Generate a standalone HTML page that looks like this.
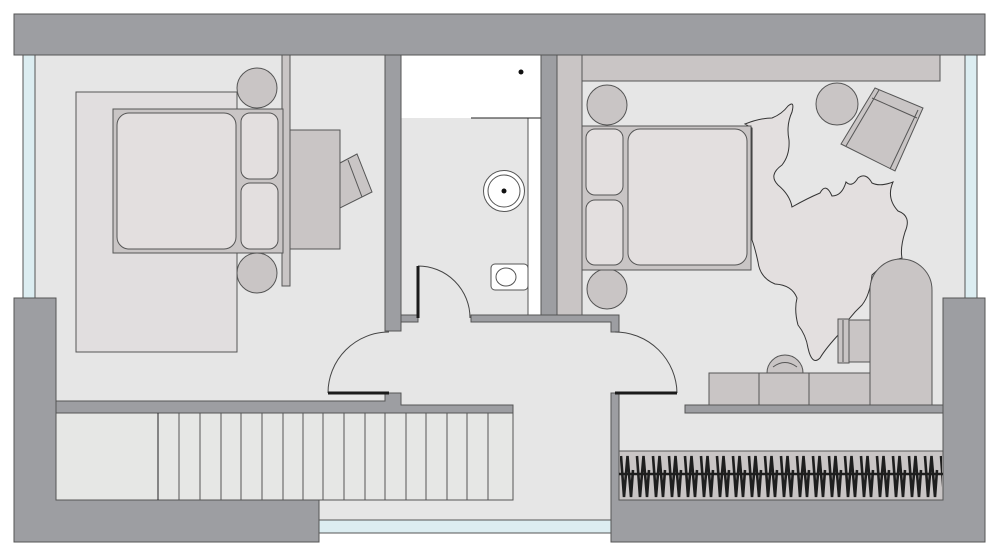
<!DOCTYPE html>
<html><head><meta charset="utf-8"><style>
html,body{margin:0;padding:0;background:#fff;width:1000px;height:556px;overflow:hidden}
svg{display:block}
</style></head><body>
<svg width="1000" height="556" viewBox="0 0 1000 556" xmlns="http://www.w3.org/2000/svg">
<defs>
<pattern id="hang" x="619" y="0" width="16" height="556" patternUnits="userSpaceOnUse">
<path d="M2,456 L5,497 L8.5,456 L12,497 L14,470" fill="none" stroke="#1e1e1e" stroke-width="2.6"/>
</pattern>
</defs>
<g stroke="#555" stroke-width="1">
<rect x="35" y="55" width="930" height="465" fill="#e6e6e6" stroke="none"/>
<rect x="23" y="55" width="12" height="243" fill="#dcedf1"/>
<rect x="965" y="55" width="12" height="243" fill="#dcedf1"/>
<rect x="319" y="520" width="293" height="13" fill="#dcedf1"/>
<rect x="401" y="55" width="140" height="63" fill="#fff" stroke="none"/>
<rect x="528" y="118" width="13" height="197" fill="#fff"/>
<line x1="471" y1="118" x2="541" y2="118" stroke="#222"/>
<circle cx="521" cy="72" r="2.5" fill="#111" stroke="none"/>
<circle cx="504" cy="191" r="20.5" fill="#fff"/>
<circle cx="504" cy="191" r="16" fill="#fff"/>
<circle cx="504" cy="191" r="2.5" fill="#111" stroke="none"/>
<rect x="491" y="264" width="37" height="26" rx="4" fill="#fff"/>
<ellipse cx="506" cy="277" rx="10" ry="9" fill="#fff"/>
<g fill="#9d9ea2">
<rect x="14" y="14" width="971" height="41"/>
<path d="M14,298 H56 V500 H319 V542 H14 Z"/>
<path d="M611,393 H619 V500 H943 V298 H985 V542 H611 Z"/>
<rect x="385" y="55" width="16" height="276"/>
<rect x="541" y="55" width="16" height="260"/>
<rect x="401" y="315" width="17" height="7"/>
<path d="M471,315 H619 V332 H611 V322 H471 Z"/>
<path d="M56,401 H385 V393 H401 V405 H513 V413 H56 Z"/>
<rect x="685" y="405" width="258" height="8"/>
</g>
<rect x="56" y="413" width="457" height="87" fill="#e6e7e5"/>
<g stroke="#555">
<line x1="158" y1="413" x2="158" y2="500" stroke="#222"/>
<line x1="179" y1="413" x2="179" y2="500"/><line x1="200" y1="413" x2="200" y2="500"/>
<line x1="221" y1="413" x2="221" y2="500"/><line x1="241" y1="413" x2="241" y2="500"/>
<line x1="262" y1="413" x2="262" y2="500"/><line x1="283" y1="413" x2="283" y2="500"/>
<line x1="303" y1="413" x2="303" y2="500"/><line x1="323" y1="413" x2="323" y2="500"/>
<line x1="344" y1="413" x2="344" y2="500"/><line x1="365" y1="413" x2="365" y2="500"/>
<line x1="385" y1="413" x2="385" y2="500"/><line x1="406" y1="413" x2="406" y2="500"/>
<line x1="426" y1="413" x2="426" y2="500"/><line x1="447" y1="413" x2="447" y2="500"/>
<line x1="467" y1="413" x2="467" y2="500"/><line x1="488" y1="413" x2="488" y2="500"/>
</g>
<rect x="619" y="451" width="324" height="49" fill="#c9c5c5"/>
<rect x="620" y="452" width="322" height="47" fill="url(#hang)" stroke="none"/>
<line x1="619" y1="474" x2="943" y2="474" stroke="#1e1e1e" stroke-width="2.5"/>
<path d="M328,393 A61,61 0 0 1 389,332" fill="none" stroke="#444"/>
<line x1="328" y1="393" x2="389" y2="393" stroke="#1a1a1a" stroke-width="3"/>
<path d="M418,266 A52,52 0 0 1 470,318" fill="none" stroke="#444"/>
<line x1="418" y1="266" x2="418" y2="318" stroke="#1a1a1a" stroke-width="3"/>
<path d="M615,332 A62,62 0 0 1 677,393" fill="none" stroke="#444"/>
<line x1="615" y1="393" x2="677" y2="393" stroke="#1a1a1a" stroke-width="3"/>
<rect x="76" y="92" width="161" height="260" fill="#e1dedf"/>
<rect x="282" y="55" width="8" height="231" fill="#c9c5c5"/>
<circle cx="257" cy="88" r="20" fill="#c9c5c5"/>
<circle cx="257" cy="273" r="20" fill="#c9c5c5"/>
<rect x="113" y="109" width="170" height="144" fill="#c9c5c5"/>
<rect x="117" y="113" width="119" height="136" rx="12" fill="#e3dfdf"/>
<rect x="241" y="113" width="37" height="66" rx="9" fill="#e3dfdf"/>
<rect x="241" y="183" width="37" height="66" rx="9" fill="#e3dfdf"/>
<rect x="290" y="130" width="50" height="119" fill="#c9c5c5"/>
<polygon points="340,163 357,154 372,192 340,208" fill="#c9c5c5"/>
<line x1="348" y1="160" x2="362" y2="197"/>
<rect x="557" y="55" width="25" height="260" fill="#c9c5c5"/>
<rect x="582" y="55" width="358" height="26" fill="#c9c5c5"/>
<path d="M745,124 Q760,118 772,118 Q782,114 788,106 Q795,100 792,112 Q786,125 789,140 Q790,155 782,165 Q768,175 778,185 Q790,195 792,207 Q808,198 820,193 Q826,182 832,196 Q842,196 846,182 Q852,188 858,178 Q866,172 872,183 Q880,187 893,182 Q886,198 898,211 Q912,216 905,232 Q900,248 902,258 Q885,262 872,275 Q870,295 862,305 Q848,318 840,333 Q826,348 820,358 Q812,366 808,348 Q806,335 798,325 Q794,310 797,298 Q792,285 775,284 Q760,278 758,262 Q755,248 752,240 L752,128 Z" fill="#e3dfdf" stroke="#333"/>
<circle cx="607" cy="105" r="20" fill="#c9c5c5"/>
<circle cx="607" cy="289" r="20" fill="#c9c5c5"/>
<rect x="582" y="126" width="169" height="144" fill="#c9c5c5"/>
<rect x="586" y="129" width="37" height="66" rx="9" fill="#e3dfdf"/>
<rect x="586" y="200" width="37" height="65" rx="9" fill="#e3dfdf"/>
<rect x="628" y="129" width="119" height="136" rx="12" fill="#e3dfdf"/>
<circle cx="837" cy="104" r="21" fill="#c9c5c5"/>
<polygon points="875,88 923,108 895,171 841,144" fill="#c9c5c5"/>
<line x1="872" y1="98" x2="917" y2="118"/>
<line x1="879" y1="90" x2="846" y2="146"/>
<line x1="918" y1="110" x2="890" y2="169"/>
<path d="M870,405 V290 A31,31 0 0 1 932,290 V405 Z" fill="#c9c5c5"/>
<rect x="849" y="320" width="21" height="42" fill="#c9c5c5"/>
<rect x="838" y="319" width="11" height="44" fill="#c9c5c5"/>
<line x1="843" y1="320" x2="843" y2="362"/>
<path d="M767,373 A18,18 0 0 1 803,373 Z" fill="#c9c5c5"/>
<path d="M773,367 Q785,358 797,367" fill="none"/>
<rect x="709" y="373" width="161" height="32" fill="#c9c5c5"/>
<line x1="759" y1="373" x2="759" y2="405"/>
<line x1="809" y1="373" x2="809" y2="405"/>
</g>
</svg>
</body></html>
